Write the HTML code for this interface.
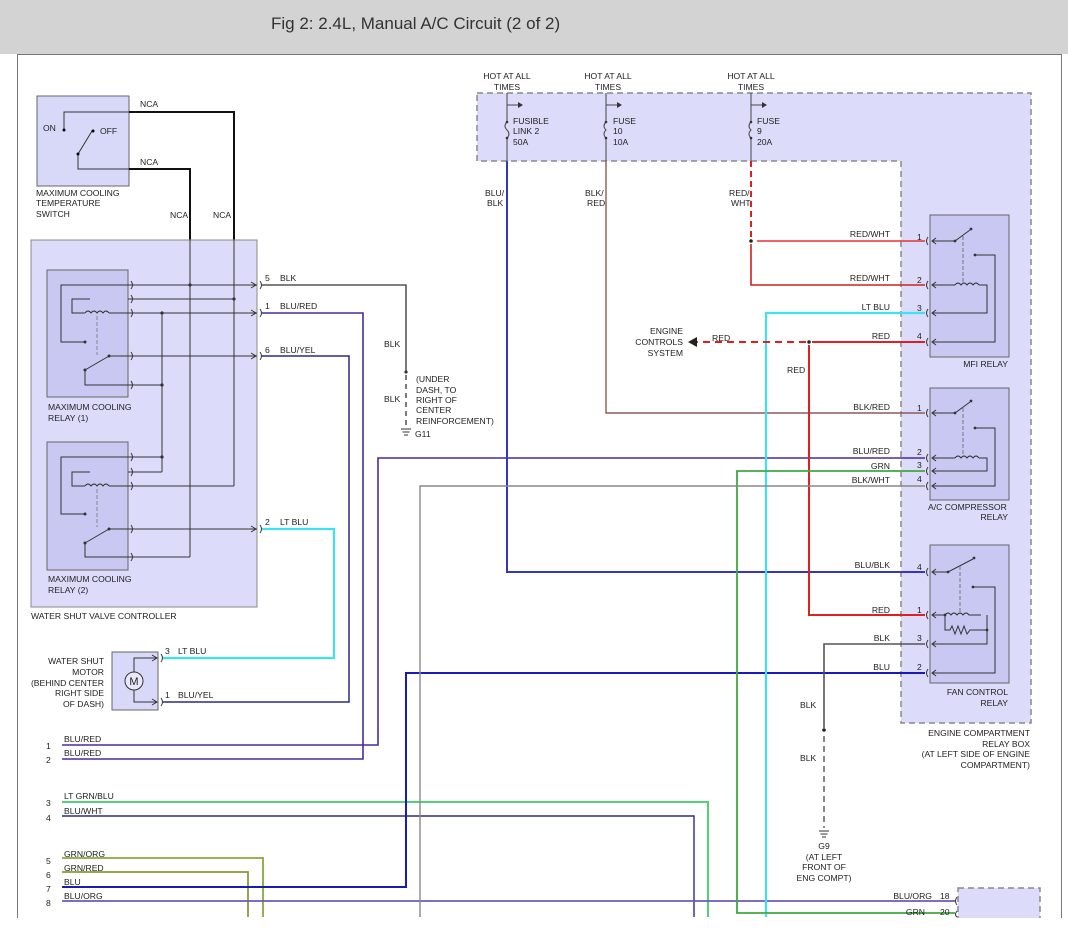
<!DOCTYPE html>
<html><head><meta charset="utf-8"><style>
html,body{margin:0;padding:0;background:#fff;}
svg{display:block;}
text{font-family:"Liberation Sans",sans-serif;font-size:8.6px;fill:#222;}
.t{font-size:17px;fill:#333;}
.r{text-anchor:end;}
.c{text-anchor:middle;}
</style></head><body>
<svg width="1068" height="932" viewBox="0 0 1068 932" xmlns="http://www.w3.org/2000/svg">
<rect x="0" y="0" width="1068" height="54" fill="#d3d3d3"/>
<text class="t" x="271" y="29">Fig 2: 2.4L, Manual A/C Circuit (2 of 2)</text>
<line x1="17.5" y1="54" x2="17.5" y2="918" stroke="#777"/>
<line x1="1061.5" y1="54" x2="1061.5" y2="918" stroke="#777"/>
<line x1="17" y1="54.5" x2="1062" y2="54.5" stroke="#777"/>

<!-- relay box region -->
<path d="M477,93 H1031 V723 H901 V161 H477 Z" fill="#dcdcfa" stroke="#888" stroke-dasharray="6,4" stroke-width="1.5"/>
<rect x="958" y="888" width="82" height="40" fill="#dcdcfa" stroke="#888" stroke-dasharray="6,4" stroke-width="1.5"/>

<!-- temp switch -->
<rect x="37" y="96" width="92" height="90" fill="#d8d8f8" stroke="#666"/>
<text x="43" y="131">ON</text><text x="100" y="134">OFF</text>
<g stroke="#333" fill="none">
<polyline points="64,130 64,112 129,112"/>
<polyline points="78,154 78,169 129,169"/>
<line x1="78" y1="154" x2="92" y2="131"/>
</g>
<circle cx="64" cy="130" r="1.5"/><circle cx="78" cy="154" r="1.5"/><circle cx="93" cy="131" r="1.5"/>
<text x="36" y="196">MAXIMUM COOLING</text><text x="36" y="206">TEMPERATURE</text><text x="36" y="217">SWITCH</text>
<text x="140" y="107">NCA</text><text x="140" y="165">NCA</text><text x="170" y="218">NCA</text><text x="213" y="218">NCA</text>
<g stroke="#111" stroke-width="2" fill="none">
<polyline points="129,112 234,112 234,240"/>
<polyline points="129,169 190,169 190,240"/>
</g>

<!-- controller -->
<rect x="31" y="240" width="226" height="367" fill="#dcdcfa" stroke="#888"/>
<rect x="47" y="270" width="81" height="127" fill="#c8c8f2" stroke="#666"/>
<rect x="47" y="442" width="81" height="128" fill="#c8c8f2" stroke="#666"/>
<text x="48" y="410">MAXIMUM COOLING</text><text x="48" y="421">RELAY (1)</text>
<text x="48" y="582">MAXIMUM COOLING</text><text x="48" y="593">RELAY (2)</text>
<text x="31" y="619">WATER SHUT VALVE CONTROLLER</text>
<g stroke="#333" fill="none">
<line x1="190" y1="240" x2="190" y2="557"/>
<line x1="234" y1="240" x2="234" y2="486"/>
<line x1="162" y1="313" x2="162" y2="472"/>
<polyline points="85,342 61,342 61,285 257,285"/>
<polyline points="90,299 72,299 72,313 85,313"/>
<path d="M85,313 q3,-4 6,0 q3,-4 6,0 q3,-4 6,0 q3,-4 6,0"/>
<line x1="109" y1="313" x2="257" y2="313"/>
<line x1="128" y1="299" x2="234" y2="299"/>
<line x1="97" y1="316" x2="97" y2="355" stroke-dasharray="4,2" stroke="#888"/>
<line x1="85" y1="370" x2="109" y2="356"/>
<line x1="109" y1="356" x2="257" y2="356"/>
<polyline points="85,370 85,385 162,385"/>
<polyline points="85,514 61,514 61,457 162,457"/>
<polyline points="90,472 72,472 72,486 85,486"/>
<path d="M85,486 q3,-4 6,0 q3,-4 6,0 q3,-4 6,0 q3,-4 6,0"/>
<line x1="109" y1="486" x2="234" y2="486"/>
<line x1="128" y1="472" x2="162" y2="472"/>
<line x1="97" y1="489" x2="97" y2="527" stroke-dasharray="4,2" stroke="#888"/>
<line x1="85" y1="543" x2="109" y2="529"/>
<line x1="109" y1="529" x2="257" y2="529"/>
<polyline points="85,543 85,557 190,557"/>
<path d="M131,281 q3,4 0,8 M131,295 q3,4 0,8 M131,309 q3,4 0,8 M131,352 q3,4 0,8 M131,381 q3,4 0,8 M131,453 q3,4 0,8 M131,468 q3,4 0,8 M131,482 q3,4 0,8 M131,525 q3,4 0,8 M131,553 q3,4 0,8"/>
<path d="M260,281 q3,4 0,8 M260,309 q3,4 0,8 M260,352 q3,4 0,8 M260,525 q3,4 0,8 M161,654 q3,4 0,8 M161,698 q3,4 0,8"/>
<path d="M251,282 l5,3 l-5,3 M251,310 l5,3 l-5,3 M251,353 l5,3 l-5,3 M251,526 l5,3 l-5,3"/>
</g>
<g fill="#333">
<circle cx="190" cy="285" r="1.6"/><circle cx="234" cy="299" r="1.6"/><circle cx="162" cy="313" r="1.6"/><circle cx="162" cy="385" r="1.6"/>
<circle cx="85" cy="342" r="1.5"/><circle cx="85" cy="370" r="1.5"/><circle cx="109" cy="356" r="1.5"/>
<circle cx="162" cy="457" r="1.6"/><circle cx="85" cy="514" r="1.5"/><circle cx="85" cy="543" r="1.5"/><circle cx="109" cy="529" r="1.5"/>
</g>
<text x="265" y="281">5</text><text x="280" y="281">BLK</text>
<text x="265" y="309">1</text><text x="280" y="309">BLU/RED</text>
<text x="265" y="353">6</text><text x="280" y="353">BLU/YEL</text>
<text x="265" y="525">2</text><text x="280" y="525">LT BLU</text>

<polyline points="262,285 406,285 406,372" stroke="#333" stroke-width="1.3" fill="none"/>
<line x1="406" y1="375" x2="406" y2="425" stroke="#333" stroke-width="1.3" stroke-dasharray="5,4"/>
<circle cx="406" cy="372" r="1.6" fill="#333"/>
<g stroke="#333"><line x1="401" y1="429" x2="411" y2="429"/><line x1="402.5" y1="432" x2="409.5" y2="432"/><line x1="404" y1="435" x2="408" y2="435"/></g>
<text x="384" y="347">BLK</text><text x="384" y="402">BLK</text>
<text x="416" y="382">(UNDER</text><text x="416" y="393">DASH, TO</text><text x="416" y="403">RIGHT OF</text><text x="416" y="413">CENTER</text><text x="416" y="424">REINFORCEMENT)</text><text x="415" y="437">G11</text>

<rect x="112" y="652" width="46" height="58" fill="#d8d8f8" stroke="#666"/>
<g stroke="#333" fill="none">
<polyline points="157,658 134,658 134,672"/><polyline points="157,702 134,702 134,690"/>
<circle cx="134" cy="681" r="9" fill="#e8e8fc"/>
<path d="M152,655 l5,3 l-5,3 M152,699 l5,3 l-5,3"/>
</g>
<text x="134" y="685" class="c" style="font-size:11px">M</text>
<text class="r" x="104" y="664">WATER SHUT</text><text class="r" x="104" y="675">MOTOR</text><text class="r" x="104" y="686">(BEHIND CENTER</text><text class="r" x="104" y="696">RIGHT SIDE</text><text class="r" x="104" y="707">OF DASH)</text>
<text x="165" y="654">3</text><text x="178" y="654">LT BLU</text>
<text x="165" y="698">1</text><text x="178" y="698">BLU/YEL</text>

<polyline points="262,529 334,529 334,658 163,658" stroke="#3fe0ef" stroke-width="2.2" fill="none"/>
<polyline points="262,356 349,356 349,702 163,702" stroke="#2a2a8a" stroke-width="1.5" fill="none"/>
<polyline points="262,313 363,313 363,759 62,759" stroke="#4a2aa0" stroke-width="1.6" fill="none"/>
<polyline points="62,745 378,745 378,458 925,458" stroke="#4a2aa0" stroke-width="1.6" fill="none"/>

<g>
<text x="46" y="749">1</text><text x="64" y="742">BLU/RED</text>
<text x="46" y="763">2</text><text x="64" y="756">BLU/RED</text>
<text x="46" y="806">3</text><text x="64" y="799">LT GRN/BLU</text>
<text x="46" y="821">4</text><text x="64" y="814">BLU/WHT</text>
<text x="46" y="864">5</text><text x="64" y="857">GRN/ORG</text>
<text x="46" y="878">6</text><text x="64" y="871">GRN/RED</text>
<text x="46" y="892">7</text><text x="64" y="885">BLU</text>
<text x="46" y="906">8</text><text x="64" y="899">BLU/ORG</text>
</g>
<polyline points="62,802 708,802 708,917" stroke="#55d07a" stroke-width="2" fill="none"/>
<polyline points="62,816 694,816 694,917" stroke="#2a2a8a" stroke-width="1.4" fill="none"/>
<polyline points="62,858 263,858 263,917" stroke="#8aa83c" stroke-width="1.8" fill="none"/>
<polyline points="62,872 248,872 248,917" stroke="#8a9a3c" stroke-width="1.8" fill="none"/>
<polyline points="62,887 406,887 406,673 925,673" stroke="#1a1ab8" stroke-width="2" fill="none"/>
<polyline points="62,901 955,901" stroke="#6a5ac0" stroke-width="1.8" fill="none"/>

<g>
<text class="c" x="507" y="79">HOT AT ALL</text><text class="c" x="507" y="90">TIMES</text>
<text class="c" x="608" y="79">HOT AT ALL</text><text class="c" x="608" y="90">TIMES</text>
<text class="c" x="751" y="79">HOT AT ALL</text><text class="c" x="751" y="90">TIMES</text>
<text x="513" y="124">FUSIBLE</text><text x="513" y="134">LINK 2</text><text x="513" y="145">50A</text>
<text x="613" y="124">FUSE</text><text x="613" y="134">10</text><text x="613" y="145">10A</text>
<text x="757" y="124">FUSE</text><text x="757" y="134">9</text><text x="757" y="145">20A</text>
</g>
<g stroke="#444" fill="none">
<path d="M507,93 V122 M507,138 V161 M507,122 q-4,4 0,8 q4,4 0,8"/>
<path d="M606,93 V122 M606,138 V161 M606,122 q-4,4 0,8 q-4,4 0,8"/>
<path d="M751,93 V122 M751,138 V161 M751,122 q-4,4 0,8 q-4,4 0,8"/>
<path d="M507,105 H518 M606,105 H617 M751,105 H762"/>
</g>
<g fill="#333"><path d="M518,102 l5,3 l-5,3z"/><path d="M617,102 l5,3 l-5,3z"/><path d="M762,102 l5,3 l-5,3z"/>
<circle cx="507" cy="122" r="1.3"/><circle cx="507" cy="138" r="1.3"/><circle cx="606" cy="122" r="1.3"/><circle cx="606" cy="138" r="1.3"/><circle cx="751" cy="122" r="1.3"/><circle cx="751" cy="138" r="1.3"/></g>
<text x="485" y="196">BLU/</text><text x="487" y="206">BLK</text>
<text x="585" y="196">BLK/</text><text x="587" y="206">RED</text>
<text x="729" y="196">RED/</text><text x="731" y="206">WHT</text>

<polyline points="507,161 507,572 925,572" stroke="#3535c0" stroke-width="2" fill="none"/>
<polyline points="606,161 606,413 925,413" stroke="#8e5a5a" stroke-width="1.4" fill="none"/>
<line x1="751" y1="161" x2="751" y2="238" stroke="#e02020" stroke-width="2" stroke-dasharray="6,4"/>
<circle cx="751" cy="241" r="1.8" fill="#222"/>
<line x1="757" y1="241" x2="925" y2="241" stroke="#e83030" stroke-width="1.6"/>
<polyline points="751,244 751,285 925,285" stroke="#d02020" stroke-width="1.6" fill="none"/>
<polyline points="925,313 766,313 766,917" stroke="#3fe0ef" stroke-width="2.2" fill="none"/>
<line x1="925" y1="342" x2="812" y2="342" stroke="#e02020" stroke-width="2"/>
<line x1="806" y1="342" x2="697" y2="342" stroke="#e02020" stroke-width="2" stroke-dasharray="7,5"/>
<path d="M688,342 l9,-5 v10z" fill="#222"/>
<circle cx="809" cy="342" r="1.8" fill="#222"/>
<polyline points="809,345 809,615 925,615" stroke="#e02020" stroke-width="2" fill="none"/>
<polyline points="925,471 737,471 737,913 955,913" stroke="#40a840" stroke-width="1.8" fill="none"/>
<polyline points="925,486 420,486 420,917" stroke="#888" stroke-width="1.4" fill="none"/>
<polyline points="925,644 824,644 824,700" stroke="#555" stroke-width="1.6" fill="none"/>
<circle cx="824" cy="730" r="1.8" fill="#222"/>
<line x1="824" y1="736" x2="824" y2="828" stroke="#555" stroke-width="1.4" stroke-dasharray="6,4"/>
<line x1="824" y1="700" x2="824" y2="728" stroke="#555" stroke-width="1.6"/>
<g stroke="#333"><line x1="819" y1="831" x2="829" y2="831"/><line x1="820.5" y1="834" x2="827.5" y2="834"/><line x1="822" y1="837" x2="826" y2="837"/></g>
<text x="800" y="708">BLK</text><text x="800" y="761">BLK</text>
<text class="c" x="824" y="849">G9</text><text class="c" x="824" y="860">(AT LEFT</text><text class="c" x="824" y="870">FRONT OF</text><text class="c" x="824" y="881">ENG COMPT)</text>
<text class="r" x="683" y="334">ENGINE</text><text class="r" x="683" y="345">CONTROLS</text><text class="r" x="683" y="356">SYSTEM</text>
<text x="712" y="341">RED</text><text x="787" y="373">RED</text>

<g>
<text class="r" x="890" y="237">RED/WHT</text><text x="917" y="240">1</text>
<text class="r" x="890" y="281">RED/WHT</text><text x="917" y="283">2</text>
<text class="r" x="890" y="310">LT BLU</text><text x="917" y="311">3</text>
<text class="r" x="890" y="339">RED</text><text x="917" y="339">4</text>
<text class="r" x="890" y="410">BLK/RED</text><text x="917" y="411">1</text>
<text class="r" x="890" y="454">BLU/RED</text><text x="917" y="455">2</text>
<text class="r" x="890" y="469">GRN</text><text x="917" y="468">3</text>
<text class="r" x="890" y="483">BLK/WHT</text><text x="917" y="482">4</text>
<text class="r" x="890" y="568">BLU/BLK</text><text x="917" y="570">4</text>
<text class="r" x="890" y="613">RED</text><text x="917" y="613">1</text>
<text class="r" x="890" y="641">BLK</text><text x="917" y="641">3</text>
<text class="r" x="890" y="670">BLU</text><text x="917" y="670">2</text>
<text class="r" x="932" y="899">BLU/ORG</text><text x="940" y="899">18</text>
<text class="r" x="925" y="915">GRN</text><text x="940" y="915">20</text>
</g>

<rect x="930" y="215" width="79" height="142" fill="#c8c8f2" stroke="#666"/>
<rect x="930" y="388" width="79" height="112" fill="#c8c8f2" stroke="#666"/>
<rect x="930" y="545" width="79" height="138" fill="#c8c8f2" stroke="#666"/>
<text class="r" x="1008" y="367">MFI RELAY</text>
<text x="928" y="510">A/C COMPRESSOR</text><text class="r" x="1008" y="520">RELAY</text>
<text class="r" x="1008" y="695">FAN CONTROL</text><text class="r" x="1008" y="706">RELAY</text>
<text class="r" x="1030" y="736">ENGINE COMPARTMENT</text><text class="r" x="1030" y="747">RELAY BOX</text><text class="r" x="1030" y="757">(AT LEFT SIDE OF ENGINE</text><text class="r" x="1030" y="768">COMPARTMENT)</text>
<g stroke="#333" fill="none">
<path d="M928,237 q-3,4 0,8 M928,281 q-3,4 0,8 M928,309 q-3,4 0,8 M928,338 q-3,4 0,8"/>
<path d="M936,238 l-4,3 l4,3 M936,282 l-4,3 l4,3 M936,310 l-4,3 l4,3 M936,339 l-4,3 l4,3"/>
<polyline points="932,241 955,241 970,230"/>
<polyline points="975,255 995,255 995,342 932,342"/>
<line x1="932" y1="285" x2="955" y2="285"/>
<path d="M955,285 q3,-4 6,0 q3,-4 6,0 q3,-4 6,0 q3,-4 6,0"/>
<polyline points="979,285 987,285 987,313 932,313"/>
<line x1="963" y1="236" x2="963" y2="282" stroke-dasharray="4,2" stroke="#777"/>
<path d="M928,409 q-3,4 0,8 M928,454 q-3,4 0,8 M928,467 q-3,4 0,8 M928,482 q-3,4 0,8"/>
<path d="M936,410 l-4,3 l4,3 M936,455 l-4,3 l4,3 M936,468 l-4,3 l4,3 M936,483 l-4,3 l4,3"/>
<polyline points="932,413 955,413 970,402"/>
<polyline points="975,428 995,428 995,486 932,486"/>
<line x1="932" y1="458" x2="955" y2="458"/>
<path d="M955,458 q3,-4 6,0 q3,-4 6,0 q3,-4 6,0 q3,-4 6,0"/>
<polyline points="979,458 987,458 987,471 932,471"/>
<line x1="963" y1="408" x2="963" y2="455" stroke-dasharray="4,2" stroke="#777"/>
<path d="M928,568 q-3,4 0,8 M928,611 q-3,4 0,8 M928,640 q-3,4 0,8 M928,669 q-3,4 0,8"/>
<path d="M936,569 l-4,3 l4,3 M936,612 l-4,3 l4,3 M936,641 l-4,3 l4,3 M936,670 l-4,3 l4,3"/>
<polyline points="932,572 948,572 973,559"/>
<polyline points="973,587 995,587 995,673 932,673"/>
<line x1="932" y1="615" x2="945" y2="615"/>
<path d="M945,615 q3,-4 6,0 q3,-4 6,0 q3,-4 6,0 q3,-4 6,0 h12"/>
<polyline points="945,615 945,630 950,630 952,626 955,634 958,626 961,634 964,626 967,634 970,630 987,630"/>
<polyline points="987,615 987,644 932,644"/>
<line x1="960" y1="566" x2="960" y2="612" stroke-dasharray="4,2" stroke="#777"/>
<path d="M957,897 q-3,4 0,8 M957,911 q-3,4 0,6"/>
</g>
<g fill="#333">
<circle cx="955" cy="241" r="1.4"/><circle cx="971" cy="229" r="1.4"/><circle cx="975" cy="255" r="1.4"/>
<circle cx="955" cy="413" r="1.4"/><circle cx="971" cy="401" r="1.4"/><circle cx="975" cy="428" r="1.4"/>
<circle cx="948" cy="572" r="1.4"/><circle cx="974" cy="558" r="1.4"/><circle cx="973" cy="587" r="1.4"/><circle cx="945" cy="615" r="1.4"/><circle cx="987" cy="630" r="1.4"/>
</g>
<rect x="0" y="918" width="1068" height="14" fill="#fff"/>
</svg>
</body></html>
